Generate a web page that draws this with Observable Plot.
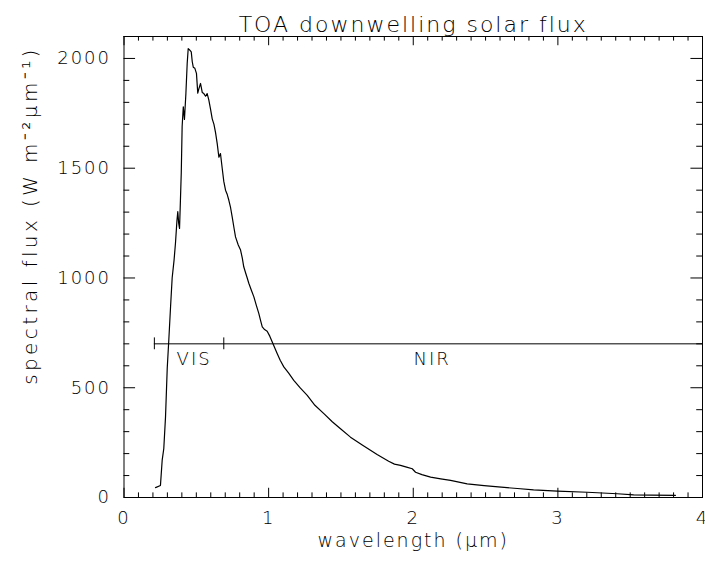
<!DOCTYPE html>
<html><head><meta charset="utf-8">
<script src="https://cdn.jsdelivr.net/npm/d3@7"></script>
<script src="https://cdn.jsdelivr.net/npm/@observablehq/plot@0.6"></script>
<style>
html,body{margin:0;padding:0;background:#fff;}
svg text{letter-spacing:2px;}
svg g.ylab text{letter-spacing:3.4px;}
</style></head><body><div id="chart"></div>
<script>
const title = "TOA downwelling solar flux";
const xLabel = "wavelength (μm)";
const yLabel = "spectral flux (W m⁻²μm⁻¹)";
const wavelength = [0.218,0.252,0.264,0.275,0.287,0.299,0.310,0.322,0.333,0.346,0.356,0.366,0.372,0.378,0.384,0.390,0.396,0.402,0.410,0.418,0.428,0.437,0.444,0.452,0.465,0.472,0.479,0.490,0.501,0.510,0.517,0.529,0.541,0.552,0.564,0.575,0.586,0.598,0.610,0.622,0.633,0.645,0.656,0.667,0.679,0.690,0.702,0.714,0.725,0.737,0.748,0.760,0.771,0.790,0.806,0.818,0.828,0.840,0.852,0.863,0.880,0.898,0.915,0.932,0.945,0.956,0.972,0.990,1.008,1.025,1.042,1.059,1.080,1.105,1.140,1.174,1.220,1.267,1.320,1.382,1.440,1.497,1.566,1.650,1.750,1.830,1.870,1.912,1.960,1.993,2.016,2.060,2.120,2.190,2.258,2.373,2.490,2.608,2.720,2.832,2.996,3.203,3.411,3.524,3.650,3.813];
const flux = [45,55,170,222,366,590,720,870,1000,1080,1159,1260,1302,1250,1226,1350,1480,1690,1780,1722,1840,1978,2045,2040,2030,1985,1960,1955,1932,1842,1860,1886,1845,1840,1828,1840,1812,1770,1725,1700,1662,1610,1550,1567,1500,1440,1400,1380,1354,1320,1278,1230,1187,1150,1127,1090,1051,1025,1000,976,945,914,875,839,805,777,765,757,735,708,682,656,625,595,565,534,498,465,420,382,345,313,275,238,196,165,152,146,137,131,115,104,93,85,78,62,54,47,41,35,29,24,17,12,11,10];
const xTickValues = [0,1,2,3,4];
const yTickValues = [0,500,1000,1500,2000];
const xDomain = [0,4];
const yDomain = [0,2100];
const bandY = 700;
const bandEdges = [0.21,0.69];
const bandLineEnd = 4;
const bandNames = ["VIS","NIR"];
const bandLabelX = [0.485,2.13];
const bandLabelY = 632;

const spectrum = wavelength.map((w,i)=>({w, f: flux[i]}));
const xMinor = d3.range(0,41).map(i=>i/10);
const yMinor = d3.range(0,2101,100);
const isMajX = d => Math.abs(d - Math.round(d)) < 1e-6;
const isMajY = d => d % 500 === 0;
const [X0,X1] = xDomain, [Y0,Y1] = yDomain;
const font = "'DejaVu Sans', sans-serif";

const chart = Plot.plot({
  width: 705, height: 565,
  marginLeft: 123.5, marginRight: 3, marginTop: 36, marginBottom: 68,
  style: {fontFamily: font, color: "black", background: "white"},
  x: {domain: xDomain},
  y: {domain: yDomain},
  marks: [
    Plot.frame({stroke: "black", strokeWidth: 1}),
    Plot.ruleX(xMinor, {x: d=>d, y1: Y0, y2: d => Y0 + (isMajX(d) ? 42 : 21), stroke: "black"}),
    Plot.ruleX(xMinor, {x: d=>d, y1: Y1, y2: d => Y1 - (isMajX(d) ? 42 : 21), stroke: "black"}),
    Plot.ruleY(yMinor, {y: d=>d, x1: X0, x2: d => X0 + (isMajY(d) ? 0.08 : 0.04), stroke: "black"}),
    Plot.ruleY(yMinor, {y: d=>d, x1: X1, x2: d => X1 - (isMajY(d) ? 0.08 : 0.04), stroke: "black"}),
    Plot.line(spectrum, {x: "w", y: "f", stroke: "black", strokeWidth: 1.2}),
    Plot.ruleY([bandY], {x1: bandEdges[0], x2: bandLineEnd, stroke: "black"}),
    Plot.ruleX(bandEdges, {x: d=>d, y1: bandY-27, y2: bandY+27, stroke: "black"}),
    Plot.text(bandNames, {x: (d,i)=>bandLabelX[i], y: bandLabelY, text: d=>d, fontSize: 18, fontWeight: 200, fill: "black"}),
    Plot.axisX({ticks: xTickValues, tickSize: 0, tickPadding: 14, fontSize: 18, fontWeight: 200, label: null, tickFormat: d=>String(d)}),
    Plot.axisY({ticks: yTickValues, tickSize: 0, tickPadding: 13, fontSize: 18, fontWeight: 200, label: null, tickFormat: d=>String(d)}),
    Plot.text([title], {frameAnchor: "top", dy: -20, text: d=>d, fontSize: 22, fontWeight: 200, fill: "black"}),
    Plot.text([xLabel], {frameAnchor: "bottom", dy: 49, text: d=>d, fontSize: 19, fontWeight: 200, fill: "black"}),
    Plot.text([yLabel], {frameAnchor: "left", textAnchor: "middle", lineAnchor: "middle", dx: -93.5, dy: -51.5, rotate: -90, text: d=>d, fontSize: 20, fontWeight: 200, fill: "black", className: "ylab"})
  ]
});
document.getElementById("chart").appendChild(chart);
</script></body></html>
